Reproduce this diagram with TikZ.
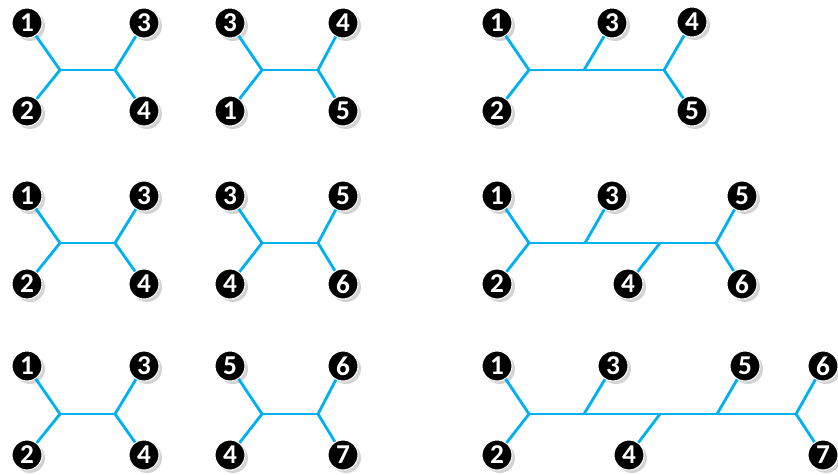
\documentclass[tikz,border=0pt]{standalone}
\usepackage{fontspec}
\setmainfont{Carlito}
\usetikzlibrary{shadows}
\definecolor{branchblue}{RGB}{0,176,240}

\begin{document}
\begin{tikzpicture}[
            x=0.02cm, y=-0.02cm,
            leaf/.style={circle, fill=black, draw=white, line width=0.6pt, text=white, inner sep=0pt, minimum size=0.6cm, font=\bfseries\fontsize{15.5}{15.5}\selectfont, drop shadow={opacity=0.35, shadow xshift=0.06cm, shadow yshift=-0.06cm}},
            branch/.style={branchblue, line width=1.6pt}
        ]
            \useasboundingbox (0,0) rectangle (838,474);

            % --- LINHA 1 ---
            \node[leaf] (a1) at (27,23) {1};
            \node[leaf] (a2) at (27,111) {2};
            \node[leaf] (a3) at (144,23) {3};
            \node[leaf] (a4) at (144,111) {4};
            \coordinate (au) at (60,70);
            \coordinate (av) at (115,70);

            \node[leaf] (b3) at (230,23) {3};
            \node[leaf] (b1) at (230,111) {1};
            \node[leaf] (b4) at (343,23) {4};
            \node[leaf] (b5) at (343,111) {5};
            \coordinate (bu) at (262,70);
            \coordinate (bv) at (318,70);

            \node[leaf] (c1) at (497,23) {1};
            \node[leaf] (c2) at (497,111) {2};
            \node[leaf] (c3) at (612,23) {3};
            \node[leaf] (c4) at (692,22) {4};
            \node[leaf] (c5) at (692,111) {5};
            \coordinate (cu) at (529,70);
            \coordinate (cv) at (584,70);
            \coordinate (cw) at (664,70);

            % --- LINHA 2 ---
            \node[leaf] (d1) at (27,196) {1};
            \node[leaf] (d2) at (27,284) {2};
            \node[leaf] (d3) at (144,196) {3};
            \node[leaf] (d4) at (144,284) {4};
            \coordinate (du) at (60,243);
            \coordinate (dv) at (115,243);

            \node[leaf] (e3) at (230,196) {3};
            \node[leaf] (e4) at (230,284) {4};
            \node[leaf] (e5) at (343,196) {5};
            \node[leaf] (e6) at (343,284) {6};
            \coordinate (eu) at (262,243);
            \coordinate (ev) at (318,243);

            \node[leaf] (f1) at (497,196) {1};
            \node[leaf] (f2) at (497,284) {2};
            \node[leaf] (f3) at (612,196) {3};
            \node[leaf] (f4) at (628,284) {4};
            \node[leaf] (f5) at (742,196) {5};
            \node[leaf] (f6) at (742,284) {6};
            \coordinate (fu) at (529,243);
            \coordinate (fv) at (585,243);
            \coordinate (fw) at (660,243);
            \coordinate (fx) at (716,243);

            % --- LINHA 3 ---
            \node[leaf] (g1) at (27,366) {1};
            \node[leaf] (g2) at (27,455) {2};
            \node[leaf] (g3) at (144,366) {3};
            \node[leaf] (g4) at (144,455) {4};
            \coordinate (gu) at (60,414);
            \coordinate (gv) at (115,414);

            \node[leaf] (h5) at (230,366) {5};
            \node[leaf] (h4) at (230,455) {4};
            \node[leaf] (h6) at (343,366) {6};
            \node[leaf] (h7) at (343,455) {7};
            \coordinate (hu) at (262,414);
            \coordinate (hv) at (318,414);

            \node[leaf] (k1) at (497,366) {1};
            \node[leaf] (k2) at (497,455) {2};
            \node[leaf] (k3) at (613,366) {3};
            \node[leaf] (k4) at (629,455) {4};
            \node[leaf] (k5) at (745,366) {5};
            \node[leaf] (k6) at (823,366) {6};
            \node[leaf] (k7) at (823,455) {7};
            \coordinate (ku) at (529,414);
            \coordinate (kv) at (584,414);
            \coordinate (kw) at (660,414);
            \coordinate (kx) at (717,414);
            \coordinate (ky) at (796,414);

            % --- RAMOS ---
            \draw[branch] (a1) -- (au) -- (a2);
            \draw[branch] (au) -- (av);
            \draw[branch] (a3) -- (av) -- (a4);

            \draw[branch] (b3) -- (bu) -- (b1);
            \draw[branch] (bu) -- (bv);
            \draw[branch] (b4) -- (bv) -- (b5);

            \draw[branch] (c1) -- (cu) -- (c2);
            \draw[branch] (cu) -- (cw);
            \draw[branch] (c3) -- (cv);
            \draw[branch] (c4) -- (cw) -- (c5);

            \draw[branch] (d1) -- (du) -- (d2);
            \draw[branch] (du) -- (dv);
            \draw[branch] (d3) -- (dv) -- (d4);

            \draw[branch] (e3) -- (eu) -- (e4);
            \draw[branch] (eu) -- (ev);
            \draw[branch] (e5) -- (ev) -- (e6);

            \draw[branch] (f1) -- (fu) -- (f2);
            \draw[branch] (fu) -- (fx);
            \draw[branch] (f3) -- (fv);
            \draw[branch] (f4) -- (fw);
            \draw[branch] (f5) -- (fx) -- (f6);

            \draw[branch] (g1) -- (gu) -- (g2);
            \draw[branch] (gu) -- (gv);
            \draw[branch] (g3) -- (gv) -- (g4);

            \draw[branch] (h5) -- (hu) -- (h4);
            \draw[branch] (hu) -- (hv);
            \draw[branch] (h6) -- (hv) -- (h7);

            \draw[branch] (k1) -- (ku) -- (k2);
            \draw[branch] (ku) -- (ky);
            \draw[branch] (k3) -- (kv);
            \draw[branch] (k4) -- (kw);
            \draw[branch] (k5) -- (kx);
            \draw[branch] (k6) -- (ky) -- (k7);
        \end{tikzpicture}
\end{document}
